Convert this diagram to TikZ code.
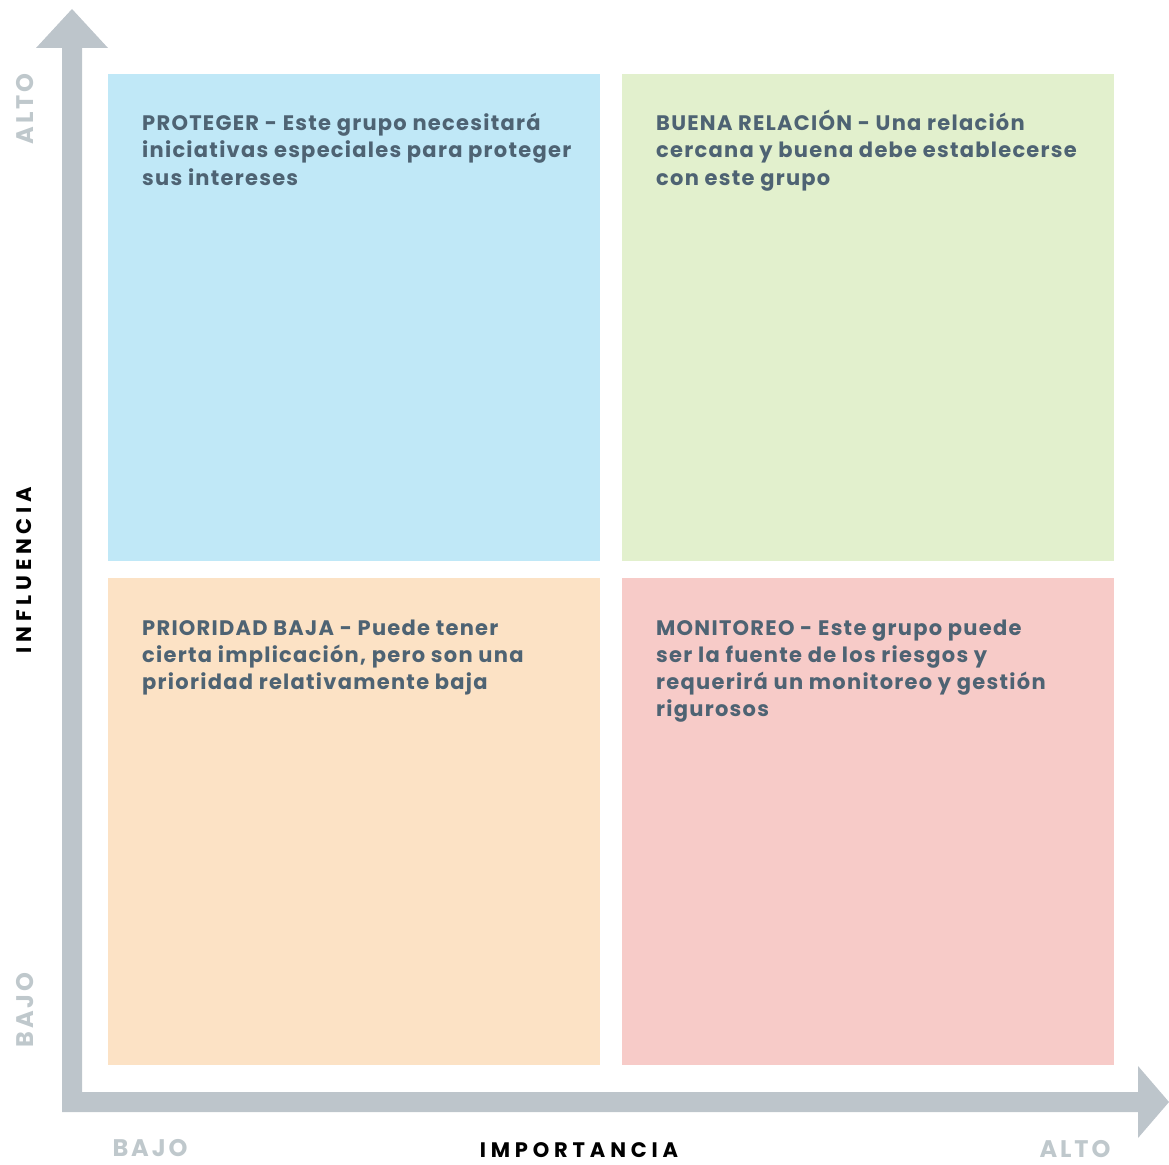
\documentclass[tikz,border=0pt]{standalone}
\usepackage{fontspec}
\newfontfamily\bodyfont{Poppins}[LetterSpace=6]
\newfontfamily\labfont{Poppins}[LetterSpace=23]
\newfontfamily\glabfont{Poppins}[LetterSpace=12]
\definecolor{axisgrey}{HTML}{BDC5CB}
\definecolor{labgrey}{HTML}{BFC8CC}
\definecolor{txt}{HTML}{4E6373}
\definecolor{qblue}{HTML}{C0E8F7}
\definecolor{qgreen}{HTML}{E2F0CD}
\definecolor{qpeach}{HTML}{FCE2C5}
\definecolor{qpink}{HTML}{F7CBC8}
\begin{document}
\begin{tikzpicture}[x=1pt,y=-1pt,
  ln/.style={anchor=base west,inner sep=0pt,text=txt,font=\bodyfont\bfseries\fontsize{21}{27.5}\selectfont},
  glab/.style={anchor=base,inner sep=0pt,text depth=0pt,text=labgrey,font=\glabfont\bfseries\fontsize{24}{26}\selectfont},
  blab/.style={anchor=base,inner sep=0pt,text depth=0pt,text=black,font=\labfont\bfseries\fontsize{21}{22}\selectfont}]
\useasboundingbox (0,0) rectangle (1169,1164);
% quadrants
\fill[qblue]  (108,74) rectangle (600,561);
\fill[qgreen] (622,74) rectangle (1114,561);
\fill[qpeach] (108,578) rectangle (600,1065);
\fill[qpink]  (622,578) rectangle (1114,1065);
% axes
\fill[axisgrey] (62,1112) -- (62,48) -- (36,48) -- (72,9) -- (108,48) -- (82,48) -- (82,1092)
  -- (1138,1092) -- (1138,1066) -- (1169,1102) -- (1138,1138) -- (1138,1112) -- cycle;
% TL text
\node[ln] (tl1) at (142,130) {PROTEGER - Este grupo necesitará};
\node[ln] (tl2) at (142,157.5) {iniciativas especiales para proteger};
\node[ln] (tl3) at (142,185) {sus intereses};
% TR
\node[ln] (tr1) at (656,130) {BUENA RELACIÓN - Una relación};
\node[ln] (tr2) at (656,157.5) {cercana y buena debe establecerse};
\node[ln] (tr3) at (656,185) {con este grupo};
% BL
\node[ln] (bl1) at (142,635) {PRIORIDAD BAJA - Puede tener};
\node[ln] (bl2) at (142,662) {cierta implicación, pero son una};
\node[ln] (bl3) at (142,689) {prioridad relativamente baja};
% BR
\node[ln] (br1) at (656,635) {MONITOREO - Este grupo puede};
\node[ln] (br2) at (656,662) {ser la fuente de los riesgos y};
\node[ln] (br3) at (656,689) {requerirá un monitoreo y gestión};
\node[ln] (br4) at (656,716) {rigurosos};
% axis labels
\node[glab,rotate=90] (yhi) at (33,109) {ALTO};
\node[glab,rotate=90] (ylo) at (33,1010) {BAJO};
\node[blab,rotate=90] (ylab) at (31,570) {INFLUENCIA};
\node[glab] (xlo) at (150,1156) {BAJO};
\node[blab] (xlab) at (579,1157) {IMPORTANCIA};
\node[glab] (xhi) at (1075,1157) {ALTO};
\end{tikzpicture}
\end{document}
